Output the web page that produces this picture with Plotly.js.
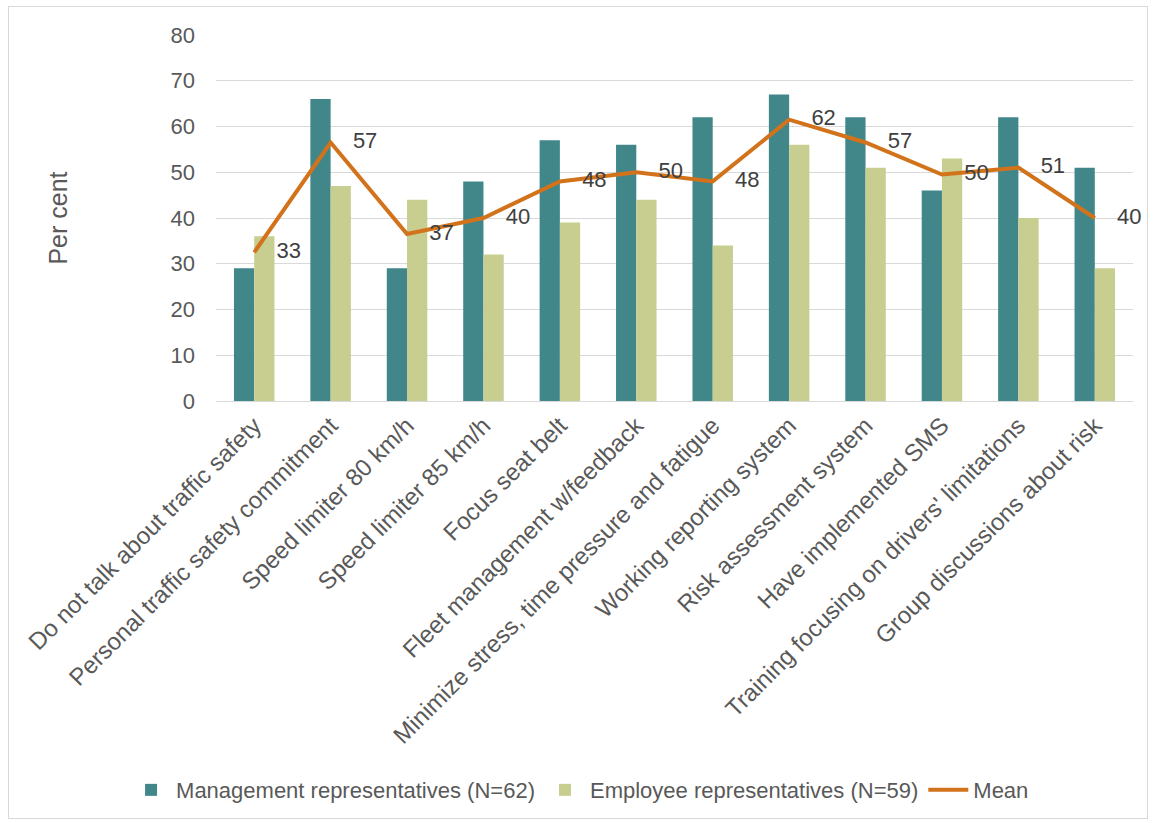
<!DOCTYPE html>
<html>
<head>
<meta charset="utf-8">
<script src="https://cdn.plot.ly/plotly-3.0.1.min.js"></script>
<style>
html,body{margin:0;padding:0;background:#fff;}
#chart{width:1153px;height:823px;}
#frame{position:absolute;left:8px;top:6px;width:1138px;height:811px;border:1px solid #d9d9d9;pointer-events:none;}
</style>
</head>
<body>
<div id="chart"></div>
<div id="frame"></div>
<script>
const categories = [
  "Do not talk about traffic safety",
  "Personal traffic safety commitment",
  "Speed limiter 80 km/h",
  "Speed limiter 85 km/h",
  "Focus seat belt",
  "Fleet management w/feedback",
  "Minimize stress, time pressure and fatigue",
  "Working reporting system",
  "Risk assessment system",
  "Have implemented SMS",
  "Training focusing on drivers' limitations",
  "Group discussions about risk"
];
const management = [29, 66, 29, 48, 57, 56, 62, 67, 62, 46, 62, 51];
const employee   = [36, 47, 44, 32, 39, 44, 34, 56, 51, 53, 40, 29];
const meanValues = [32.5, 56.5, 36.5, 40, 48, 50, 48, 61.5, 56.5, 49.5, 51, 40];
const meanLabels = ["33", "57", "37", "40", "48", "50", "48", "62", "57", "50", "51", "40"];
const yTicks = [0, 10, 20, 30, 40, 50, 60, 70, 80];

const font = "Liberation Sans, Arial, sans-serif";
const traces = [
  {type: "bar", name: "Management representatives (N=62)", x: categories, y: management,
   marker: {color: "#41878a"}, hoverinfo: "y"},
  {type: "bar", name: "Employee representatives (N=59)", x: categories, y: employee,
   marker: {color: "#c7ce90"}, hoverinfo: "y"},
  {type: "scatter", mode: "lines+markers+text", name: "Mean", x: categories, y: meanValues,
   text: meanLabels, textposition: "middle right",
   textfont: {family: font, size: 22, color: "#404040"},
   marker: {size: 34, color: "rgba(0,0,0,0)"},
   line: {color: "#d2731c", width: 4}, cliponaxis: false}
];

const layout = {
  width: 1153, height: 823,
  margin: {l: 216, r: 20, t: 35, b: 422},
  paper_bgcolor: "#ffffff", plot_bgcolor: "#ffffff",
  font: {family: font, color: "#595959", size: 22},
  barmode: "group", bargap: 0.47, bargroupgap: 0,
  xaxis: {
    range: [-0.5, categories.length - 0.5],
    tickangle: -45, tickfont: {family: font, size: 24, color: "#595959"},
    showgrid: false, showline: true, linecolor: "#d9d9d9", linewidth: 1,
    ticks: "", automargin: false
  },
  yaxis: {
    range: [0, 80], tickvals: yTicks, ticktext: yTicks.map(String),
    tickfont: {family: font, size: 22, color: "#595959"},
    showgrid: true, gridcolor: "#d9d9d9", gridwidth: 1, zeroline: false,
    showline: false, ticks: "", ticklabelstandoff: 20,
    title: {text: "Per cent", font: {family: font, size: 25, color: "#595959"}, standoff: 95},
    automargin: false
  },
  legend: {
    orientation: "h", x: 0.397, xanchor: "center", y: -1.063, yanchor: "middle",
    font: {family: font, size: 22, color: "#595959"}, itemwidth: 40,
    traceorder: "normal"
  },
  showlegend: true
};

Plotly.newPlot("chart", traces, layout, {displayModeBar: false, staticPlot: true});
</script>
</body>
</html>
